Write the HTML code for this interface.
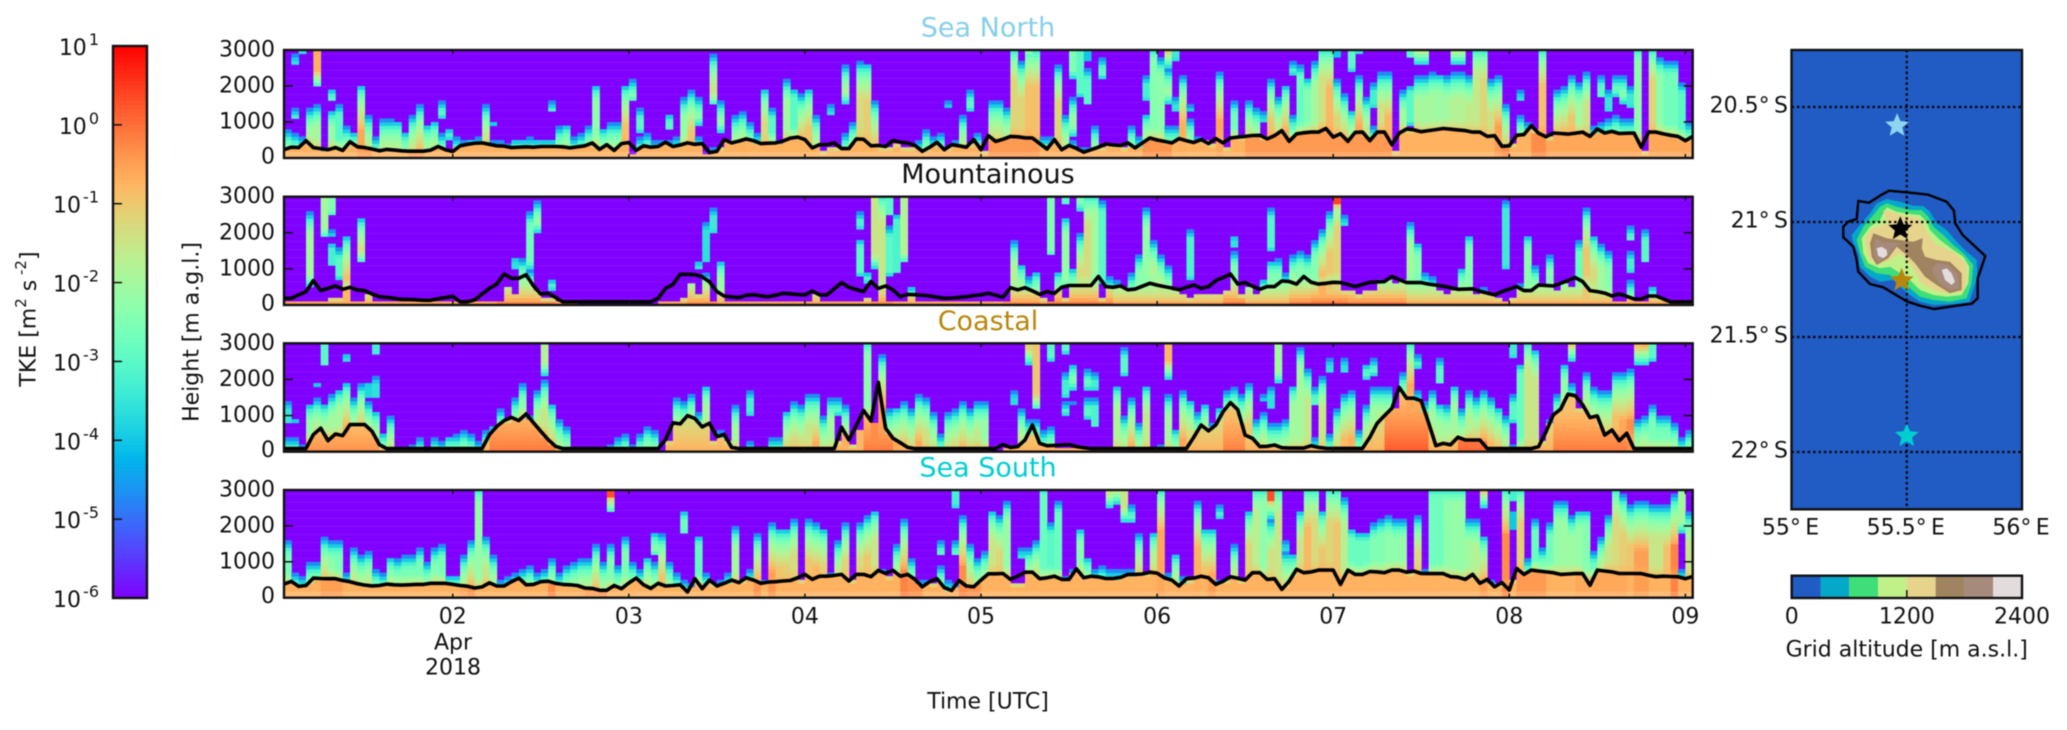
<!DOCTYPE html>
<html lang="en">
<head>
<meta charset="utf-8">
<title>TKE time-height sections</title>
<style>
html,body{margin:0;padding:0;background:#fff;width:2067px;height:730px;overflow:hidden}
svg{display:block;font-family:"DejaVu Sans","Liberation Sans",sans-serif;filter:blur(.45px)}
text{fill:#111}
</style>
</head>
<body>
<svg id="figure" xmlns="http://www.w3.org/2000/svg" width="2067" height="730" viewBox="0 0 2067 730">
  <defs id="defs"></defs>
  <rect x="0" y="0" width="2067" height="730" fill="#fff"/>
  <g id="panels"></g>
  <g id="cbar"></g>
  <g id="map"></g>
  <text transform="translate(29,319) rotate(-90)" text-anchor="middle" dominant-baseline="central" font-size="22">TKE [m<tspan font-size="15" dy="-8">2</tspan><tspan dy="8"> s</tspan><tspan font-size="15" dy="-8"> -2</tspan><tspan dy="8">]</tspan></text>
  <text transform="translate(192,332) rotate(-90)" text-anchor="middle" dominant-baseline="central" font-size="22">Height [m a.g.l.]</text>
  <text x="988" y="702" text-anchor="middle" dominant-baseline="central" font-size="22">Time [UTC]</text>
  <text x="453" y="643" text-anchor="middle" dominant-baseline="central" font-size="22">Apr</text>
  <text x="453" y="668" text-anchor="middle" dominant-baseline="central" font-size="22">2018</text>
  <text x="1906.7" y="650" text-anchor="middle" dominant-baseline="central" font-size="22">Grid altitude [m a.s.l.]</text>
</svg>
<script>
/* ---------- data: hourly boundary-layer height (m) ---------- */
const northPbl = [230,300,290,480,290,260,230,290,210,450,310,290,
250,200,240,220,200,190,190,190,220,320,230,180,
340,380,410,420,380,340,330,290,300,310,300,320,
320,320,310,280,310,340,420,240,370,210,400,430,
210,340,300,320,440,320,360,420,380,400,150,185,
510,420,470,530,480,400,410,420,470,550,580,510,
280,370,370,420,260,260,530,520,340,350,320,490,
440,420,350,185,300,435,230,370,340,300,510,230,
620,460,520,600,590,560,555,400,250,510,230,350,
270,160,230,300,390,360,350,420,280,420,555,500,
460,420,540,480,430,510,400,540,420,555,580,600,
625,630,530,620,760,460,670,700,720,720,820,580,
675,460,710,720,480,720,720,370,690,805,780,730,
760,790,820,800,780,760,720,720,600,620,325,340,
630,650,900,690,590,695,680,665,690,720,600,805,
695,740,680,690,695,300,720,720,670,630,600,480,600];
const mountainPbl = [185,185,280,370,675,400,460,530,435,490,415,400,
305,230,210,185,155,155,145,130,130,175,205,240,
90,90,140,305,460,580,860,740,740,840,530,305,
325,210,90,90,90,90,90,90,90,90,90,90,
90,90,90,185,460,570,850,850,840,780,640,370,
250,225,205,270,285,250,230,270,325,310,290,280,
390,280,280,450,620,490,430,370,650,460,530,420,
230,295,285,270,250,220,185,195,210,230,260,280,
325,270,215,480,420,480,390,295,370,320,490,540,
540,540,540,790,510,490,530,420,440,520,600,550,
510,470,420,490,555,460,510,675,760,860,580,620,
520,435,510,510,665,650,580,790,630,580,600,630,
620,570,510,570,630,640,650,790,700,620,620,620,
580,550,520,480,435,440,450,380,330,280,370,440,
510,400,400,555,540,530,600,680,760,650,400,370,
330,250,305,240,165,165,250,250,170,85,85,85,85];
const coastalPbl = [85,85,85,85,470,650,305,490,445,750,750,750,
565,195,85,85,85,85,85,85,85,85,85,85,
85,85,85,85,470,700,860,950,860,1045,800,565,
335,150,85,85,85,85,85,85,85,85,85,85,
85,85,85,85,335,800,770,1000,920,685,790,415,
480,120,85,85,85,85,85,85,85,85,85,85,
85,85,85,85,675,325,730,1140,850,1920,650,370,
250,120,85,85,85,85,85,85,85,85,85,85,
85,85,200,120,140,325,740,230,165,175,185,200,
140,110,85,85,85,85,85,85,85,85,85,85,
85,85,85,85,400,740,575,740,1110,1360,1160,460,
370,140,150,185,110,100,100,100,165,120,95,90,
90,90,90,90,400,790,1000,1200,1780,1480,1480,1410,
800,165,230,190,400,325,325,325,85,85,85,85,
85,85,85,140,550,1020,1175,1590,1550,1300,945,990,
460,600,305,510,85,85,85,85,85,85,85,85,85];
const southPbl = [380,455,315,340,545,535,530,530,480,445,390,350,
330,340,380,360,350,360,370,370,400,400,400,370,
340,320,270,300,415,325,325,445,545,360,370,445,
460,400,370,360,340,270,260,205,205,340,250,410,
545,360,260,400,325,340,360,160,530,250,490,325,
400,490,420,555,490,400,435,445,465,480,555,650,
510,600,600,620,650,465,650,650,585,760,675,760,
600,650,510,305,445,530,280,200,480,325,305,490,
665,665,675,510,600,710,710,530,555,600,510,510,
805,555,600,580,535,535,565,650,650,660,710,685,
555,490,325,530,545,600,555,370,460,585,540,490,
695,695,510,530,230,460,790,695,720,770,770,770,
370,770,650,650,730,720,695,770,770,710,740,675,
670,670,670,585,570,510,650,400,510,305,420,215,
815,650,770,745,720,695,650,660,670,670,345,770,
745,720,675,675,675,670,620,585,600,590,585,530,590];

/* ---------- data: top of surface-attached turbulent column (m) ---------- */
const northTop = [800,700,600,1400,1500,300,1350,1500,900,750,2050,1200,
600,1100,1130,1050,750,1200,1500,950,1050,700,250,600,
500,550,600,1500,500,500,380,550,550,600,550,550,
550,900,950,620,700,900,2050,850,1000,1000,2050,150,
600,700,500,500,500,600,1700,1900,600,150,300,300,
550,1200,1300,970,700,1950,1400,500,2170,1950,1760,1950,
1230,200,300,300,700,1000,2700,2650,1600,300,300,400,
300,300,500,800,600,700,300,500,1230,400,730,200,
1600,1600,1400,3000,2700,3000,3000,600,600,2600,1200,500,
300,300,900,300,400,400,300,900,600,1250,3000,2800,
900,900,2300,1100,600,500,400,2400,300,1600,600,1600,
1400,600,2200,1700,2050,1200,2600,2250,2700,3000,3000,2200,
1800,1350,2300,1700,900,2400,2400,200,1900,800,2300,2300,
2400,2350,2300,2400,2400,2300,3000,3000,2200,2300,1500,400,
1200,1000,800,3000,600,1900,2000,2300,2100,2400,900,1000,
1100,1200,1100,1100,3000,200,3000,2800,2700,2700,2100,1000];
const mountainTop = [50,50,50,100,100,100,200,200,1950,50,60,300,
50,50,50,50,50,50,50,50,50,50,50,50,
20,30,50,80,100,150,500,350,1300,1000,400,200,
200,100,50,30,0,0,0,0,0,0,0,0,
0,0,0,50,100,150,200,650,300,900,150,1250,
100,50,50,50,50,50,50,50,50,50,50,50,
300,70,50,80,50,100,80,200,100,3000,80,80,
100,550,80,50,50,50,50,50,50,50,50,50,
50,50,100,1800,1150,800,950,200,150,950,200,1050,
2000,3000,3000,200,800,700,500,900,1400,2700,1800,1400,
1100,400,300,200,300,300,350,350,400,1530,300,500,
350,750,1250,1300,900,1430,1530,1400,1800,2100,2600,3000,
430,400,300,400,400,750,700,600,700,2300,1750,900,
800,400,300,400,1050,1950,350,500,300,200,100,200,
600,1950,1100,500,1400,400,600,500,1800,2700,1950,1700,
1500,150,100,700,100,100,550,200,50,50,50,50];
const coastalTop = [400,400,200,1350,1540,1350,1600,1750,1950,1540,1860,1400,
1150,550,980,30,30,200,420,0,360,300,450,470,
640,470,300,560,750,1170,940,1540,1860,980,1660,1970,
1350,920,700,30,20,20,20,20,200,430,520,200,
470,700,640,0,300,1540,1440,1630,1070,1850,300,600,
300,1300,100,300,50,100,430,400,1150,1430,1300,1620,
1620,1000,1520,300,1300,200,600,3000,800,2730,1230,1250,
1440,1160,1620,1530,1100,460,1060,1160,1390,1200,1400,1400,
0,0,100,30,1160,880,900,600,700,50,100,100,
100,100,100,100,50,1850,1000,1480,800,1850,100,200,
1600,650,1700,1450,1060,1350,830,1250,1700,1800,1600,1940,
900,1060,800,830,900,1850,2870,2300,400,2080,500,1160,
1600,1700,600,1300,1800,1800,1800,1250,2170,3000,1700,1400,
1700,1350,1300,1850,1200,1700,1480,1700,1480,1250,1000,200,
2450,3000,2850,300,880,1600,2450,1940,1160,2180,1800,1700,
1700,2170,2200,2300,880,1000,1300,1000,970,830,370,600];
const southTop = [1600,700,600,1000,1000,1700,1600,1560,700,1380,1200,1290,
820,730,1150,1120,1200,1200,1380,960,1400,1520,650,650,
1200,1600,3000,1700,1200,470,600,730,800,940,730,800,
1120,730,870,1000,1080,1120,1500,1000,1520,920,1700,960,
780,1150,1000,1840,1000,730,500,400,1750,700,400,500,
740,2000,500,800,1800,500,2080,1950,1950,2180,500,2180,
2080,1950,740,1620,2080,500,2080,2300,2450,800,600,1480,
2180,1060,500,500,400,900,500,400,2300,1500,1060,1340,
2450,2300,2730,400,400,1430,1600,3000,2080,2700,600,800,
1950,1150,830,900,800,800,800,800,1800,700,1850,3000,
700,1250,600,500,2700,1950,1950,500,500,1530,500,2450,
3000,3000,2200,3000,1300,1250,2450,3000,3000,2450,3000,3000,
2800,1950,1850,1850,2080,2180,2300,2200,2200,700,2300,800,
3000,3000,3000,3000,3000,2180,2180,1750,500,400,3000,500,
3000,1060,2180,1400,2080,2730,2730,2300,2450,2450,1340,1700,
2270,3000,2900,2600,2730,2700,2600,2600,2600,2900,800,2400];

/* ---------- data: detached layers [hour, base m, top m, log10 TKE] ---------- */
const northAloft = [[1,1050,1400,-3],[1,2600,2900,-3.2],[2,2900,3000,-2.6],[4,1950,3000,-.7],[6,1550,1950,-2.5],[21,1100,1600,-2.6],[22,500,850,-3],[28,900,1050,-3.5],[36,1250,1600,-1.8],[47,1550,2200,-2.5],[48,700,1400,-3],[52,750,1250,-3],[56,900,1700,-2],[58,1450,2900,-1.5],[59,700,1600,-2],[74,1230,1500,-3],[76,1500,2600,-1.3],[90,1370,1600,-3.2],[93,1280,1930,-3],[101,2750,3000,.2],[107,600,1700,-2.2],[107,2200,3000,-2.5],[108,1700,3000,-3],[109,1450,2500,-3],[109,2700,3000,-4],[111,2200,2800,-3],[117,1600,2300,-3.3],[120,1500,2500,-2],[120,2500,3000,.5],[121,1300,1700,-3.5],[121,2700,3000,-3.4],[123,1250,1500,-3.5],[133,1000,1300,-3.5],[137,2300,2700,-2.6],[143,2800,3000,-4],[145,2400,3000,-3],[146,2900,3000,-3.5],[148,1400,2100,-3.3],[153,900,2050,-3],[153,2750,3000,-3],[154,2600,3000,-1],[155,2600,3000,-1.3],[159,2600,3000,-.9],[160,2600,3000,-2],[168,1600,1900,-3.5],[179,1650,2300,-3],[180,1300,1900,-3.5],[181,1700,2300,-1.4],[182,1500,2300,-2],[183,1400,2000,-3.4]];
const mountainAloft = [[3,500,2600,-2],[5,1850,3000,-2],[6,2450,3000,-2.5],[6,1850,2100,-3.5],[6,1050,1750,-3.3],[7,700,1600,-3],[10,1150,2450,-.9],[31,1000,1350,-3.6],[33,1000,2600,-2.7],[34,2000,2900,-.9],[36,400,750,-2.5],[56,950,1250,-3.5],[57,1200,2300,-3.6],[58,2000,2700,-3.4],[78,2100,2600,-3.2],[78,800,1850,-3],[79,600,950,-3.2],[80,1000,3000,-1.5],[82,2450,3000,-3],[82,800,2200,-3],[83,850,2550,-3.2],[84,1150,3000,-1.8],[104,1350,3000,-2.5],[106,2750,3000,-3],[106,450,2450,-2.2],[108,2600,3000,-2.5],[111,600,2870,-3],[123,700,2100,-3.2],[129,1620,1950,-3.6],[134,1530,2730,-3.1],[143,2300,3000,.4],[144,2220,2500,-3.3],[166,1000,2870,-3.4],[183,1750,2200,-3],[183,900,1500,-3.3],[185,1150,2100,-3]];
const coastalAloft = [[0,750,1400,-3.5],[1,750,950,-3.3],[4,1750,1950,-3.6],[5,2350,3000,-3],[8,2500,2750,-3],[11,1500,1950,-3.8],[12,2650,3000,-3.3],[12,1500,2100,-3.6],[35,2100,3000,-1.8],[56,2950,3000,-4],[63,1000,1700,-3.3],[75,1000,1500,-3],[99,1250,1700,-3.7],[101,2360,3000,-1.2],[102,1150,3000,-1],[104,2500,3000,-3],[106,2730,3000,-3],[106,1500,2180,-3.3],[106,1000,1400,-3],[107,1700,2450,-2.5],[107,1300,1430,-3],[109,1670,2320,-1.8],[109,930,1530,-3],[110,2950,3000,-3.6],[110,1670,2200,-3.3],[110,650,1480,-3.2],[114,2080,2870,-3],[120,2000,3000,-.8],[133,1400,1630,-3.3],[134,1200,1800,-3.6],[135,1900,3000,-2],[137,2950,3000,-3],[140,1250,1800,-3],[142,2220,2590,-3.6],[144,2200,2590,-3.6],[147,2000,2450,-3],[148,2130,2590,-2],[154,2310,2730,-2],[157,1850,2590,-3],[167,2590,3000,-3.4],[167,800,1600,-3],[175,2500,3000,-1],[184,2360,3000,-.9],[185,2360,3000,-.7],[186,2500,3000,-3]];
const southAloft = [[44,2350,3000,.3],[50,1150,1850,-1.2],[54,1750,2450,-2.8],[58,2950,3000,-1.5],[89,1150,1620,-1.8],[90,2950,3000,-3],[91,2500,3000,-3.3],[91,1150,1620,-2.4],[100,1110,1430,-3.3],[112,2500,3000,-1.5],[113,2600,3000,-1.8],[114,2130,3000,-1.5],[115,2130,2600,-3],[127,2220,2590,-3],[134,2220,3000,.3],[136,1250,1620,-3.7],[163,2500,3000,-1.2],[167,2650,3000,-3.3],[167,1900,2450,-4],[190,1800,3000,-2]];

/* ---------- data: log10 TKE of the columns above the boundary layer [hour, value] ---------- */
const northPeak = [[0,-2.6],[1,-2.6],[2,-2.8],[6,-2.2],[7,-3],[8,-2.3],[10,-.6],[12,-2.3],[13,-1.5],[14,-1.2],[15,-1.1],[16,-1.3],[17,-.5],[18,-.5],[20,-1],[21,-2.2],[22,-3],[23,-3],[24,-2.5],[27,-1],[31,-1.5],[32,-1.5],[33,-1.3],[34,-1.5],[35,-1.5],[36,-1.5],[37,-1.5],[38,-1.2],[39,-1.3],[40,-1.5],[41,-.9],[42,-2.3],[43,-2.5],[44,-1.5],[45,-1.3],[46,-.9],[47,-3],[48,-3],[49,-2.5],[53,-1.5],[54,-2.2],[55,-1],[59,-1.5],[60,-1],[61,-.9],[62,-.7],[63,-1],[64,-1.5],[65,-1.3],[66,-3],[69,-3],[70,-1.1],[71,-1],[72,-2.2],[73,-3],[76,-1.5],[77,-1.5],[78,-1.3],[79,-1.1],[80,-1.3],[88,-2.5],[89,-2.5],[92,-2.3],[94,-2.5],[96,-1.4],[97,-1.2],[99,-1.2],[100,-1.2],[101,-.9],[102,-.9],[105,-1.2],[106,-1.5],[110,-3],[117,-.9],[118,-2.4],[119,-2.3],[120,-1.3],[122,-.7],[127,-.6],[129,-2.7],[131,-1.5],[132,-2.3],[134,-1],[135,-1.5],[136,-.7],[137,-3],[138,-2.8],[139,-2.5],[141,-1.4],[142,-.8],[143,-1.2],[144,-1.5],[145,-1.4],[146,-.7],[147,-1.5],[148,-2.5],[149,-1.4],[150,-.8],[153,-2.5],[154,-1.9],[157,-2.1],[159,-1.8],[160,-1.8],[161,-1.6],[162,-1.6],[163,-1.2],[164,-1.4],[165,-.5],[166,-.3],[168,-1],[171,-.9],[173,-1.3],[174,-1.2],[175,-1],[177,-1.5],[178,-2.5],[179,-2.6],[180,-2.6],[181,-2.2],[182,-2.5],[183,-2.2],[184,-2.3],[186,-1.2],[187,-2.3],[188,-2.7],[189,-2.7],[190,-3],[191,-3]];
const mountainPeak = [[8,-.8],[32,-2.8],[59,-2.2],[81,-1.5],[99,-1.8],[100,-2],[108,-1.3],[109,-1.3],[110,-2],[117,-2.2],[118,-1.8],[119,-1.5],[120,-2],[137,-2],[141,-.7],[142,-1],[143,-1.2],[153,-2],[161,-2.4],[169,-2.3],[176,-2.8],[177,-1],[178,-1.3],[179,-2]];
const coastalPeak = [[3,-2.2],[5,-1.6],[8,-.6],[9,-.9],[10,-.8],[11,-.8],[29,-1.8],[32,-2.3],[35,-1.5],[36,-1],[37,-1],[38,-1.5],[53,-2.3],[68,-1.6],[69,-1.3],[70,-1.5],[71,-1.5],[72,-.5],[73,-1],[76,-.7],[78,-.8],[79,-2.3],[80,-.3],[81,-.5],[82,-1.3],[83,-.6],[84,-.8],[85,-1.3],[86,-.4],[87,-1.4],[88,-1.7],[91,-.7],[92,-.6],[93,-.8],[94,-1.6],[95,-2.2],[100,-1.5],[102,-.9],[113,-1.8],[114,-1.1],[115,-.2],[117,-1.6],[122,-.4],[123,-1.2],[124,-1],[125,-1.8],[127,-1.7],[128,-1.3],[129,-1.3],[130,-1.3],[131,-1],[135,-2.2],[139,-1.6],[141,-1.5],[143,-1.2],[144,-.8],[145,-.6],[147,-1.2],[151,-.6],[153,-.6],[154,-.6],[155,-.7],[161,-1.8],[162,-.4],[163,-.2],[164,-.8],[165,-1],[168,-2.8],[169,-1.5],[170,-1.5],[174,-2.2],[175,-.9],[178,-.9],[179,-.9],[180,-1.4],[181,-.9],[182,-.6],[183,-.3],[186,-2.6],[187,-2.6],[188,-2.6],[189,-2.6]];
const southPeak = [[0,-2.6],[5,-1.4],[6,-2.3],[7,-2.6],[9,-.9],[10,-2.2],[11,-1.1],[14,-2.4],[15,-2.4],[16,-2.6],[17,-2.6],[18,-2.6],[20,-2.4],[21,-2.6],[24,-.6],[25,-.4],[26,-2.2],[27,-1.5],[28,-1],[34,-1.4],[36,-.3],[38,-1.2],[39,-1],[40,-.7],[41,-.5],[42,-.5],[43,-.4],[44,-2.5],[46,-2.5],[49,-1.3],[51,-1],[52,-2.8],[56,-2.9],[61,-2],[64,-.4],[66,-.4],[67,-1],[68,-1.1],[69,-1.3],[71,-1],[72,-.8],[73,-1.2],[75,-2],[76,-1.2],[78,-1.3],[79,-1],[80,-1.5],[84,-.2],[92,-.3],[93,-1.5],[96,-1.5],[97,-1.2],[98,-2.2],[103,-2.8],[104,-3],[105,-2.8],[108,-2.4],[118,-1.8],[119,-.6],[122,-1.8],[124,-.7],[125,-1],[126,-.5],[129,-1.6],[131,-1.2],[133,-2.3],[134,-1.4],[135,-1.5],[138,-1.5],[139,-.8],[140,-1.3],[141,-1],[142,-1.2],[143,-1],[145,-2.8],[146,-2.8],[147,-2.8],[148,-2.5],[149,-2.5],[150,-2.3],[151,-2.3],[152,-2.2],[154,-1.3],[156,-2.7],[157,-2.7],[158,-2.3],[159,-2.2],[160,-2.2],[161,-2],[162,-1.8],[163,-.5],[166,-.3],[168,-1.1],[170,-2.8],[172,-2.7],[173,-2.2],[174,-2.1],[175,-2.1],[176,-2.2],[177,-2.4],[178,-2.8],[179,-1.8],[180,-1.5],[181,-1.3],[182,-1.1],[183,-1],[184,-.5],[185,-.5],[186,-1.5],[187,-1.5],[188,-.9],[189,-.2],[190,-1.5],[191,-1.5]];

/* ---------- data: log10 TKE inside the boundary layer [first hour, last hour, value] ---------- */
const northSurface = [[10,11,-.5],[17,18,-.5],[96,102,-.45],[117,120,-.4],[131,150,-.45],[170,172,-.3],[172,191,-.6]];
const mountainSurface = [[29,36,-.25],[55,58,-.3],[80,82,-.3],[98,102,-.3],[104,112,-.15],[128,130,-.1],[137,152,-.15],[140,144,0]];
const coastalSurface = [[3,12,-.35],[28,36,-.1],[79,82,-.1],[91,95,-.5],[115,115,-.2],[128,130,-.15],[150,155,.2],[160,163,.1],[173,182,-.1]];
const southSurface = [[5,7,-.5],[36,36,-.35],[84,86,-.35],[92,94,-.4],[168,171,-.45],[176,182,-.6]];
/* drop of log10 TKE per metre above ground inside the boundary layer */
const surfaceDecayPerMetre = [0,.0028,.0007,0];

/* ---------- data: labels and axis ticks ---------- */
const panelTitles = ["Sea North","Mountainous","Coastal","Sea South"];
const panelColors = ["#87ceeb","#111111","#b8860b","#00ced1"];
const heightTicks = [0,1000,2000,3000];
const dayLabels = ["02","03","04","05","06","07","08","09"];
const dayHours = [23,47,71,95,119,143,167,191];
const tkeExponents = [1,0,-1,-2,-3,-4,-5,-6];
const latTicks = [20.5,21,21.5,22];
const latLabels = ["20.5°","21°","21.5°","22°"];
const lonTicks = [55,55.5,56];
const lonLabels = ["55°","55.5°","56°"];
const altitudeBands = [0,300,600,900,1200,1500,1800,2100,2400];
const altitudeColors = ["#205cc4","#05a8c8","#3fde78","#c0f088","#e6d48c","#a08460","#a68a7c","#e2dcdc"];
const altitudeTicks = [0,1200,2400];

/* ---------- data: site locations (lon, lat in degrees E / S) ---------- */
const siteNames = ["sea-north","mountainous","coastal","sea-south"];
const siteLon = [55.458,55.472,55.478,55.5];
const siteLat = [20.581,21.03,21.254,21.93];
const siteColors = ["#8fd4f0","#000000","#b8860b","#00ced1"];

/* ---------- data: island outlines (map grid units) ---------- */
const level1 = [[620,597],[660,605],[700,617],[730,618],[750,635],[770,670],[800,690],[830,725],[860,755],[890,780],[892,830],[880,870],[868,905],[820,912],[760,915],[720,905],[690,885],[660,860],[640,840],[600,845],[570,830],[540,800],[535,760],[520,730],[515,705],[540,675],[570,640],[590,610]];
const level2 = [[620,610],[650,620],[690,630],[725,630],[745,650],[760,680],[790,705],[820,735],[850,760],[880,795],[875,850],[860,895],[810,905],[760,900],[720,890],[690,865],[660,845],[630,825],[590,820],[555,800],[540,760],[530,720],[550,680],[580,645],[600,620]];
const level3 = [[620,622],[650,635],[690,642],[720,645],[740,665],[750,690],[780,720],[820,750],[850,770],[868,800],[865,850],[845,885],[800,890],[760,885],[720,870],[695,845],[670,825],[630,800],[600,805],[565,790],[550,760],[545,715],[570,680],[600,660],[610,640]];
const level4 = [[610,630],[650,640],[680,650],[715,650],[730,675],[745,705],[770,735],[820,755],[860,790],[862,840],[850,875],[800,880],[760,870],[725,850],[705,815],[690,790],[660,760],[630,780],[590,795],[565,770],[555,715],[575,685],[625,670],[615,650]];
const level5 = [[580,700],[620,715],[660,720],[700,725],[728,715],[725,745],[735,770],[770,780],[810,785],[845,820],[845,870],[810,880],[770,855],[735,830],[705,790],[680,765],[650,740],[625,775],[590,795],[575,770],[570,730]];
const level6a = [[585,715],[610,725],[660,730],[640,745],[620,770],[595,785],[582,765]];
const level6b = [[770,790],[805,795],[835,825],[838,865],[810,872],[775,845],[755,810]];
const level7a = [[590,745],[605,740],[620,750],[622,765],[610,775],[595,768]];
const level7b = [[785,810],[800,805],[815,820],[825,845],[815,855],[795,840]];
const coastline = [[627,572],[690,578],[745,584],[800,605],[822,632],[826,670],[848,705],[916,768],[905,800],[893,835],[893,895],[875,911],[830,917],[762,927],[720,917],[680,904],[640,880],[610,862],[570,852],[535,815],[530,780],[520,740],[490,712],[490,680],[505,665],[530,657],[535,603],[567,608],[600,587]];
const islandLevels = [level1,level2,level3,level4,level5,level6a,level6b,level7a,level7b];
const islandLevelColors = ["#05a8c8","#3fde78","#c0f088","#e6d48c","#a08460","#a68a7c","#a68a7c","#e2dcdc","#e2dcdc"];

/* ---------- layout and axis functions ---------- */
const NS = "http://www.w3.org/2000/svg";
const plotLeft = 284, plotRight = 1692.7, hours = 192;
const panelBoxes = [{top:50,bottom:158},{top:196.7,bottom:305},{top:343.3,bottom:451.7},{top:490,bottom:597.7}];
const hourX = function(h){ return plotLeft + (plotRight-plotLeft)*h/hours; };
const heightY = function(box,m){ return box.bottom - (box.bottom-box.top)*m/3000; };
const cbTop = 46, cbBottom = 598;
const tkeY = function(e){ return cbTop + (cbBottom-cbTop)*(1-e)/7; };
const lonX = function(lon){ return 1791.5 + (lon-55)*230.5; };
const latY = function(lat){ return 107 + (lat-20.5)*230; };
const gridX = function(u){ return 1680 + u/3; };
const gridY = function(v){ return v/3; };
const altX = function(a){ return 1791.7 + (a/2400)*230.3; };
const mk = function(tag,parent){ const e=document.createElementNS(NS,tag); parent.appendChild(e); return e; };
const setAttrs = function(e,o){ for(const k in o){ e.setAttribute(k,o[k]); } };

function rainbow(v){
  const t = Math.max(0,Math.min(1,(v+6)/7));
  const r = Math.min(1,Math.abs(2*t-.5)), g = Math.sin(Math.PI*t), b = Math.cos(Math.PI*t/2);
  return "rgb("+Math.round(r*255)+","+Math.round(g*255)+","+Math.round(b*255)+")";
}
const topFade = [-4.7,-3.9,-3.2,-2.8,-2.5,-2.2,-2,-1.8,-1.6,-1.4,-1.2,-1,-.8,-.6];
const baseFade = [-3.6,-3,-2.4,-1.8,-1.2];
function fadeAt(list,d){ return d<list.length ? list[Math.max(0,d)] : 9; }

const panelData = [
  {top:northTop, pbl:northPbl, aloft:northAloft, peak:northPeak, peakDefault:-2, surface:northSurface, surfaceDefault:-.72},
  {top:mountainTop, pbl:mountainPbl, aloft:mountainAloft, peak:mountainPeak, peakDefault:-2.4, surface:mountainSurface, surfaceDefault:-.55},
  {top:coastalTop, pbl:coastalPbl, aloft:coastalAloft, peak:coastalPeak, peakDefault:-2, surface:coastalSurface, surfaceDefault:-.7},
  {top:southTop, pbl:southPbl, aloft:southAloft, peak:southPeak, peakDefault:-1.7, surface:southSurface, surfaceDefault:-.72}
];
const defs = document.getElementById("defs");
const panelsGroup = document.getElementById("panels");

panelData.forEach(function(d,p){
  const box = panelBoxes[p];
  const slug = panelTitles[p].toLowerCase().replace(" ","-");
  const clip = mk("clipPath",defs); clip.setAttribute("id","clip"+p);
  const clipRect = mk("rect",clip);
  setAttrs(clipRect,{x:plotLeft,y:box.top,width:plotRight-plotLeft,height:box.bottom-box.top});
  const g = mk("g",panelsGroup);
  
  
  const cells = mk("g",g);
  cells.setAttribute("clip-path","url(#clip"+p+")");
  
  
  const bg = mk("rect",cells);
  
  
  setAttrs(bg,{x:plotLeft,y:box.top,width:plotRight-plotLeft,height:box.bottom-box.top,fill:rainbow(-6)});
  for(let m=200;m<3000;m+=225){
    const stripe = mk("rect",cells);
    
    
    setAttrs(stripe,{x:plotLeft,y:heightY(box,m),width:plotRight-plotLeft,height:1,fill:"#fff",opacity:.06});
  }
  const peaks = new Array(hours).fill(d.peakDefault);
  d.peak.forEach(function(s){ peaks[s[0]] = s[1]; });
  const surfs = new Array(hours).fill(d.surfaceDefault);
  d.surface.forEach(function(s){ for(let i=s[0];i<=s[1];i++){ surfs[i] = s[2]; } });
  const binM = 100;
  const decay = surfaceDecayPerMetre[p];
  for(let i=0;i<hours;i++){
    const top = d.top[i];
    const localPbl = (d.pbl[i]+d.pbl[i+1])/2;
    const layers = d.aloft.filter(function(a){ return a[0]===i; });
    for(let j=0;j<30;j++){
      const h = (j+.5)*binM;
      let v = -99;
      if(top>0 && (h<top || j===0)){
        const dt = top>=3000 ? Math.floor((3000-h)/binM)+2 : Math.floor((top-h)/binM);
        const sv = surfs[i]-decay*h;
        if(h<localPbl){
          v = dt<=0 ? Math.min(sv,-1.2) : sv;
          v = Math.max(v,Math.min(peaks[i],sv+1));
        } else {
          const near = Math.max(0,1-(h-localPbl)/300);
          const blended = peaks[i]+(sv-peaks[i])*near*.7;
          v = Math.min(blended,fadeAt(topFade,dt));
        }
        if(j===0){ v = Math.max(v,surfs[i]); }
      }
      layers.forEach(function(a){
        if(h>a[1] && h<a[2]){
          const dT = a[2]>=3000 ? 99 : Math.floor((a[2]-h)/binM);
          const dB = Math.floor((h-a[1])/binM);
          v = Math.max(v,Math.min(a[3],fadeAt(topFade,dT),fadeAt(baseFade,dB)));
        }
      });
      if(v>-5.6){
        const cell = mk("rect",cells);
        
        
        setAttrs(cell,{x:hourX(i).toFixed(2),y:heightY(box,(j+1)*binM).toFixed(2),width:(hourX(1)-hourX(0)+.4).toFixed(2),height:((box.bottom-box.top)*binM/3000+.4).toFixed(2),fill:rainbow(v)});
      }
    }
  }
  if(p===0 || p===3){
    const pale = mk("rect",cells);
    
    
    setAttrs(pale,{x:plotLeft,y:box.bottom-6,width:plotRight-plotLeft,height:6,fill:"#fff",opacity:.16});
  }
  const line = mk("polyline",cells);
  
  
  setAttrs(line,{fill:"none",stroke:"#000","stroke-width":3.6,"stroke-linejoin":"round",points:d.pbl.map(function(v,i){ return hourX(i).toFixed(1)+","+heightY(box,v).toFixed(1); }).join(" ")});
  heightTicks.forEach(function(t){
    const y = heightY(box,t);
    [[plotLeft,plotLeft+9],[plotRight-9,plotRight]].forEach(function(seg){
      const tick = mk("line",g);
      
      
      setAttrs(tick,{x1:seg[0],x2:seg[1],y1:y,y2:y,stroke:"#111","stroke-width":1.5});
    });
    const label = mk("text",g);
    
    
    setAttrs(label,{x:275,y:t===0?y-1:y,"text-anchor":"end","dominant-baseline":"central","font-size":22});
    label.textContent = t;
  });
  dayHours.forEach(function(h,k){
    const x = hourX(h);
    [[box.top,box.top+4],[box.bottom-4,box.bottom]].forEach(function(seg){
      const tick = mk("line",g);
      
      
      setAttrs(tick,{x1:x,x2:x,y1:seg[0],y2:seg[1],stroke:"#111","stroke-width":1.5});
    });
    if(p===3){
      const label = mk("text",g);
      
      
      setAttrs(label,{x:x,y:617,"text-anchor":"middle","dominant-baseline":"central","font-size":22});
      label.textContent = dayLabels[k];
    }
  });
  const frame = mk("rect",g);
  
  
  setAttrs(frame,{x:plotLeft,y:box.top,width:plotRight-plotLeft,height:box.bottom-box.top,fill:"none",stroke:"#111","stroke-width":2.4});
  const title = mk("text",g);
  
  
  setAttrs(title,{x:988,y:box.top-22,"text-anchor":"middle","dominant-baseline":"central","font-size":27});
  title.style.fill = panelColors[p];
  title.textContent = panelTitles[p];
});

/* ---------- TKE colorbar ---------- */
const cbar = document.getElementById("cbar");
for(let k=0;k<140;k++){
  const e0 = 1-7*k/140;
  const strip = mk("rect",cbar);
  
  
  setAttrs(strip,{x:113,y:tkeY(e0).toFixed(2),width:34,height:((cbBottom-cbTop)/140+.5).toFixed(2),fill:rainbow(e0-3.5/140)});
}
tkeExponents.forEach(function(e){
  const y = tkeY(e);
  const tick = mk("line",cbar);
  
  
  setAttrs(tick,{x1:113,x2:122,y1:y,y2:y,stroke:"#111","stroke-width":1.5});
  const label = mk("text",cbar);
  
  
  setAttrs(label,{x:99,y:y+9,"text-anchor":"end","font-size":22});
  const base = mk("tspan",label);
  base.textContent = "10";
  const sup = mk("tspan",label);
  setAttrs(sup,{"font-size":16,dy:-10,dx:2});
  sup.textContent = String(e);
});
const cbFrame = mk("rect",cbar);


setAttrs(cbFrame,{x:113,y:cbTop,width:34,height:cbBottom-cbTop,fill:"none",stroke:"#111","stroke-width":2.4});

/* ---------- location map ---------- */
const mapG = document.getElementById("map");
const sea = mk("rect",mapG);


setAttrs(sea,{x:lonX(55),y:50,width:lonX(56)-lonX(55),height:459.3,fill:altitudeColors[0]});
const toPoints = function(arr){ return arr.map(function(p){ return gridX(p[0]).toFixed(1)+","+gridY(p[1]).toFixed(1); }).join(" "); };
islandLevels.forEach(function(level,k){
  const poly = mk("polygon",mapG);
  
  
  setAttrs(poly,{points:toPoints(level),fill:islandLevelColors[k],"stroke-linejoin":"round"});
});
const coast = mk("polygon",mapG);


setAttrs(coast,{points:toPoints(coastline),fill:"none",stroke:"#000","stroke-width":2.4,"stroke-linejoin":"round"});
latTicks.forEach(function(lat,k){
  const y = latY(lat);
  const grid = mk("line",mapG);
  
  
  setAttrs(grid,{x1:lonX(55),x2:lonX(56),y1:y,y2:y,stroke:"#000","stroke-width":2.2,"stroke-dasharray":"2.4 3"});
  const label = mk("text",mapG);
  
  
  setAttrs(label,{x:1788,y:y-1,"text-anchor":"end","dominant-baseline":"central","font-size":22});
  label.textContent = latLabels[k]+"\u2009S";
});
lonTicks.forEach(function(lon,k){
  const x = lonX(lon);
  if(lon===55.5){
    const grid = mk("line",mapG);
    
    
    setAttrs(grid,{x1:x,x2:x,y1:50,y2:509.3,stroke:"#000","stroke-width":2.2,"stroke-dasharray":"2.4 3"});
  }
  const label = mk("text",mapG);
  
  
  setAttrs(label,{x:x-1,y:528,"text-anchor":"middle","dominant-baseline":"central","font-size":22});
  label.textContent = lonLabels[k]+"\u2009E";
});
siteNames.forEach(function(name,k){
  const cx = lonX(siteLon[k]), cy = latY(siteLat[k]), r = 12.5;
  const pts = [];
  for(let n=0;n<10;n++){
    const rr = n%2===0 ? r : r*.45;
    const a = -Math.PI/2 + n*Math.PI/5;
    pts.push((cx+rr*Math.cos(a)).toFixed(1)+","+(cy+rr*Math.sin(a)).toFixed(1));
  }
  const star = mk("polygon",mapG);
  
  
  setAttrs(star,{points:pts.join(" "),fill:siteColors[k]});
});
const mapFrame = mk("rect",mapG);


setAttrs(mapFrame,{x:lonX(55),y:50,width:lonX(56)-lonX(55),height:459.3,fill:"none",stroke:"#111","stroke-width":2.4});

/* ---------- altitude colorbar ---------- */
altitudeColors.forEach(function(c,k){
  const seg = mk("rect",mapG);
  
  
  setAttrs(seg,{x:altX(altitudeBands[k]),y:575.7,width:altX(altitudeBands[k+1])-altX(altitudeBands[k]),height:22.3,fill:c});
});
altitudeTicks.forEach(function(t){
  const tick = mk("line",mapG);
  
  
  setAttrs(tick,{x1:altX(t),x2:altX(t),y1:590,y2:598,stroke:"#111","stroke-width":1.5});
  const label = mk("text",mapG);
  
  
  setAttrs(label,{x:altX(t),y:617,"text-anchor":"middle","dominant-baseline":"central","font-size":22});
  label.textContent = t;
});
const altFrame = mk("rect",mapG);


setAttrs(altFrame,{x:altX(0),y:575.7,width:altX(2400)-altX(0),height:22.3,fill:"none",stroke:"#111","stroke-width":2.4});
</script>
</body>
</html>
